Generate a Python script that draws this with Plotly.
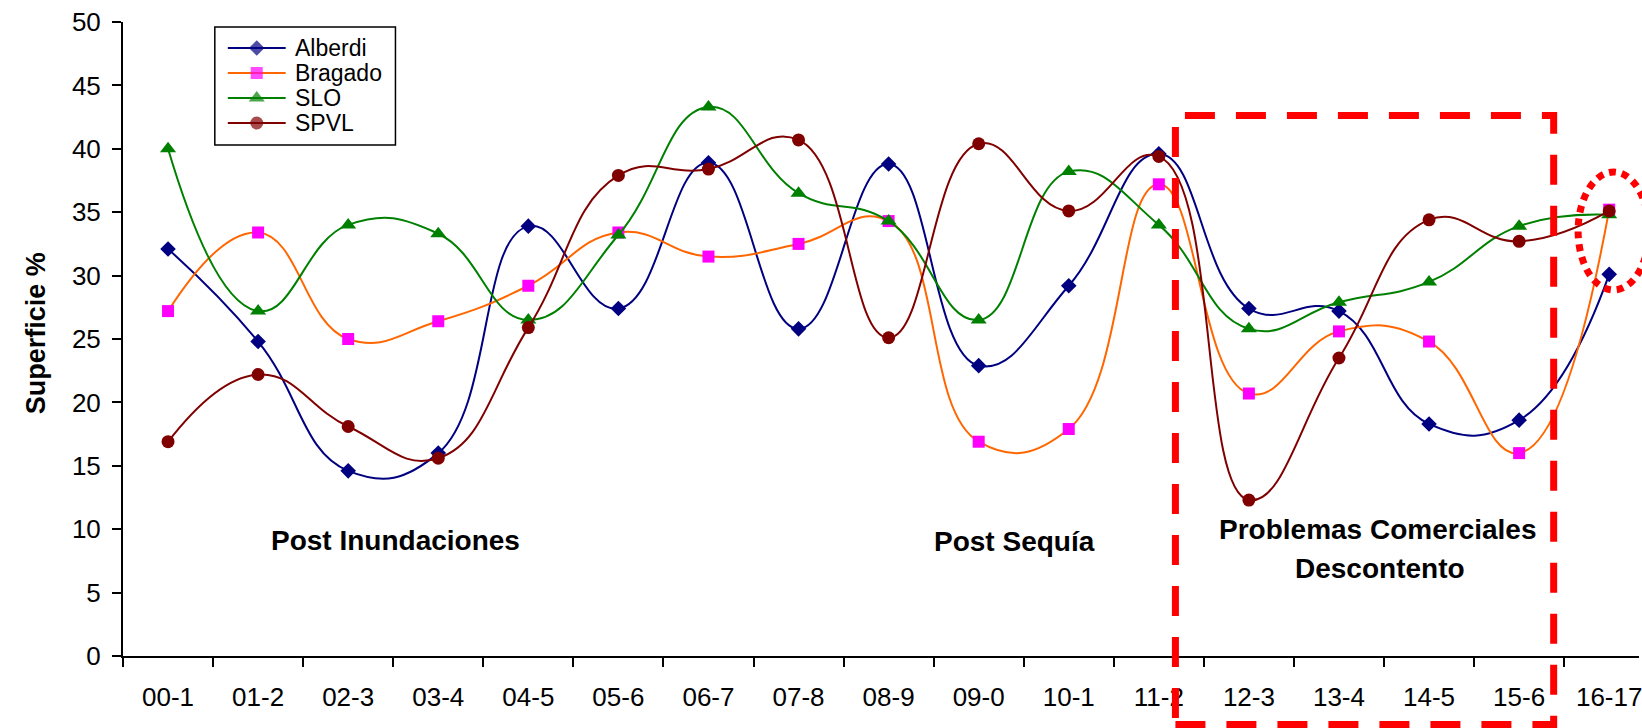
import plotly.graph_objects as go

# Agricultural seasons (campañas)
seasons = ["00-1", "01-2", "02-3", "03-4", "04-5", "05-6", "06-7", "07-8", "08-9",
           "09-0", "10-1", "11-2", "12-3", "13-4", "14-5", "15-6", "16-17"]

# Planted surface share (%) per district
alberdi = [32.1, 24.8, 14.6, 16.0, 33.9, 27.4, 38.9, 25.8, 38.8, 22.9, 29.2, 39.6, 27.4, 27.2, 18.3, 18.6, 30.1]
bragado = [27.2, 33.4, 25.0, 26.4, 29.2, 33.4, 31.5, 32.5, 34.3, 16.9, 17.9, 37.2, 20.7, 25.6, 24.8, 16.0, 35.2]
slo = [40.0, 27.2, 34.0, 33.3, 26.5, 33.2, 43.3, 36.5, 34.3, 26.5, 38.2, 34.0, 25.8, 27.9, 29.5, 33.9, 34.8]
spvl = [16.9, 22.2, 18.1, 15.6, 25.9, 37.9, 38.4, 40.7, 25.1, 40.4, 35.1, 39.4, 12.3, 23.5, 34.4, 32.7, 35.1]

series_names = ["Alberdi", "Bragado", "SLO", "SPVL"]
series_values = [alberdi, bragado, slo, spvl]
line_colors = ["#000080", "#FF6600", "#008000", "#800000"]
marker_colors = ["#000080", "#FF00FF", "#008000", "#800000"]
marker_symbols = ["diamond", "square", "triangle-up", "circle"]
marker_sizes = [12, 12, 14, 13]

FONT = "Liberation Sans, Arial, sans-serif"

W, H = 1642, 728
L, R, T, B = 123, 1642, 22, 656          # plot-area edges in pixels
CAT_W = 90.25                            # pixels per category


def px(x):
    return (x - L) / (R - L)


def py(y):
    return (B - y) / (B - T)


fig = go.Figure()

for name, vals, lc, mc, sym, ms in zip(series_names, series_values, line_colors,
                                       marker_colors, marker_symbols, marker_sizes):
    fig.add_trace(go.Scatter(
        x=seasons, y=vals, name=name, mode="lines+markers",
        line=dict(color=lc, width=2, shape="spline", smoothing=1.3),
        marker=dict(symbol=sym, size=ms, color=mc, line=dict(width=0)),
        showlegend=False, hoverinfo="x+y+name",
    ))

# Legend drawn on a pixel-unit overlay axis
leg_y = [48, 73, 98, 123]
for name, ly, lc, mc, sym, ms in zip(series_names, leg_y, line_colors, marker_colors,
                                     marker_symbols, marker_sizes):
    fig.add_trace(go.Scatter(
        x=[228, 257, 286], y=[ly, ly, ly], xaxis="x2", yaxis="y2",
        mode="lines+markers", line=dict(color=lc, width=2),
        marker=dict(symbol=sym, size=[0, ms, 0], color=mc, line=dict(width=0)),
        showlegend=False, hoverinfo="skip",
    ))

annotations = []
for name, ly in zip(series_names, leg_y):
    annotations.append(dict(
        x=293, y=ly, xref="x2", yref="y2", text=name, showarrow=False,
        xanchor="left", yanchor="middle", font=dict(family=FONT, size=23, color="black"),
    ))

# Period labels
for txt, xv, yv in [("Post Inundaciones", 2.53, 9.1), ("Post Sequía", 9.40, 9.0),
                    ("Problemas Comerciales", 13.43, 10.0), ("Descontento", 13.45, 6.9)]:
    annotations.append(dict(
        x=xv, y=yv, xref="x", yref="y", text="<b>" + txt + "</b>", showarrow=False,
        xanchor="center", yanchor="middle", font=dict(family=FONT, size=28, color="black"),
    ))

# Y-axis title
annotations.append(dict(
    x=px(36), y=py(333), xref="paper", yref="paper", text="<b>Superficie %</b>",
    textangle=-90, showarrow=False, xanchor="center", yanchor="middle",
    font=dict(family=FONT, size=27, color="black"),
))

shapes = [
    # legend frame
    dict(type="rect", xref="x2", yref="y2", x0=215, x1=396, y0=27, y1=145,
         line=dict(color="black", width=1.5), fillcolor="rgba(0,0,0,0)", layer="below"),
    # highlighted period
    dict(type="rect", xref="paper", yref="paper", x0=px(1177.5), x1=px(1556.5),
         y0=py(724.5), y1=py(115.5), line=dict(color="#FF0000", width=7, dash="30px,21px"),
         fillcolor="rgba(0,0,0,0)"),
    # latest season highlight
    dict(type="circle", xref="paper", yref="paper", x0=px(1581), x1=px(1652),
         y0=py(290), y1=py(172), line=dict(color="#FF0000", width=7, dash="7px,6px"),
         fillcolor="rgba(0,0,0,0)"),
]

fig.update_layout(
    width=W, height=H,
    margin=dict(l=L, r=W - R, t=T, b=H - B, pad=0),
    paper_bgcolor="white", plot_bgcolor="white",
    font=dict(family=FONT, color="black"),
    showlegend=False,
    xaxis=dict(
        type="category", categoryorder="array", categoryarray=seasons,
        range=[-0.5, (R - L) / CAT_W - 0.5],
        tickson="boundaries", ticks="outside", ticklen=9, tickwidth=1.5, tickcolor="black",
        showline=True, linewidth=2, linecolor="black", showgrid=False, zeroline=False,
        tickfont=dict(family=FONT, size=26, color="black"), ticklabelstandoff=17,
        fixedrange=True,
    ),
    yaxis=dict(
        range=[0, 50], tickmode="linear", tick0=0, dtick=5,
        ticks="outside", ticklen=9, tickwidth=1.5, tickcolor="black",
        showline=True, linewidth=2, linecolor="black", showgrid=False, zeroline=False,
        tickfont=dict(family=FONT, size=26, color="black"), ticklabelstandoff=6,
        fixedrange=True,
    ),
    xaxis2=dict(overlaying="x", range=[L, R], visible=False, fixedrange=True),
    yaxis2=dict(overlaying="y", range=[B, T], visible=False, fixedrange=True),
    annotations=annotations,
    shapes=shapes,
)

fig.write_html("out.html", config={"displayModeBar": False})
